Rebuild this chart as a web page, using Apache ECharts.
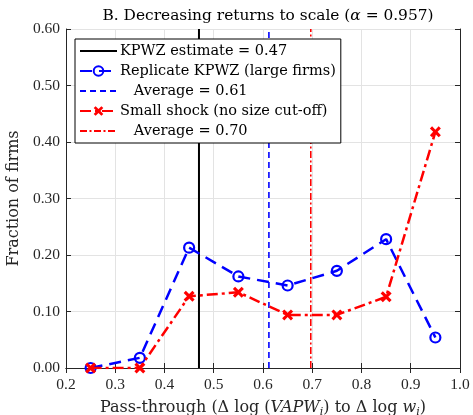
<!DOCTYPE html>
<html>
<head>
<meta charset="utf-8">
<script src="https://cdn.jsdelivr.net/npm/echarts@6/dist/echarts.min.js"></script>
<style>
  html, body { margin: 0; padding: 0; background: #fff; }
  #chart { width: 473px; height: 415px; }
</style>
</head>
<body>
<div id="chart"></div>
<script>
// Pass-through bins (bin centres) and fraction of firms in each bin
const binCentres = [0.25, 0.35, 0.45, 0.55, 0.65, 0.75, 0.85, 0.95];
const replicateLarge = [0.000, 0.018, 0.213, 0.162, 0.146, 0.172, 0.228, 0.054];
const smallShock = [0.000, 0.000, 0.127, 0.134, 0.094, 0.094, 0.126, 0.418];

// Reference values drawn as vertical lines
const kpwzEstimate = 0.47;
const replicateAverage = 0.612;
const smallShockAverage = 0.697;

const xTicks = [0.2, 0.3, 0.4, 0.5, 0.6, 0.7, 0.8, 0.9, 1.0];
const yTicks = [0.0, 0.1, 0.2, 0.3, 0.4, 0.5, 0.6];

const legendNames = [
  'KPWZ estimate = 0.47',
  'Replicate KPWZ (large firms)',
  '   Average = 0.61',
  'Small shock (no size cut-off)',
  '   Average = 0.70'
];

const TEXT_FONT = 'DejaVu Serif';
const NUM_FONT = 'Liberation Serif';
const INK = '#262626';
const xMin = xTicks[0], xMax = xTicks[xTicks.length - 1];
const yMin = yTicks[0], yMax = yTicks[yTicks.length - 1];

const pairs = (xs, ys) => xs.map((x, i) => [x, ys[i]]);
const vline = x => [[x, yMin], [x, yMax]];

const crossPath = 'path://M2,0L5,3L8,0L10,2L7,5L10,8L8,10L5,7L2,10L0,8L3,5L0,2Z';
const noMarker = { color: 'rgba(0,0,0,0)', borderWidth: 0, borderColor: 'rgba(0,0,0,0)' };

const baseX = {
  type: 'value', min: xMin, max: xMax, interval: 0.1,
  axisLine: { show: true, lineStyle: { color: INK, width: 1 } },
  axisTick: { show: true, inside: true, length: 5, lineStyle: { color: INK } },
  splitLine: { show: false }
};
const baseY = {
  type: 'value', min: yMin, max: yMax, interval: 0.1,
  axisLine: { show: true, lineStyle: { color: INK, width: 1 } },
  axisTick: { show: true, inside: true, length: 5, lineStyle: { color: INK } },
  splitLine: { show: false }
};

const chart = echarts.init(document.getElementById('chart'), null, { renderer: 'canvas' });
chart.setOption({
  backgroundColor: '#fff',
  animation: false,
  title: {
    text: 'B. Decreasing returns to scale ({a|α} = 0.957)',
    left: 263, top: 3, textAlign: 'center',
    textStyle: {
      fontFamily: TEXT_FONT, fontSize: 15.4, fontWeight: 'normal', color: '#000',
      rich: { a: { fontFamily: TEXT_FONT, fontStyle: 'italic', fontSize: 15.4, color: '#000' } }
    }
  },
  grid: {
    left: 66, right: 13, top: 29, bottom: 47,
    containLabel: false, outerBoundsMode: 'none'
  },
  legend: {
    orient: 'vertical', left: 75, top: 39,
    data: [
      { name: legendNames[0], itemStyle: noMarker },
      { name: legendNames[1] },
      { name: legendNames[2], itemStyle: noMarker },
      { name: legendNames[3] },
      { name: legendNames[4], itemStyle: noMarker }
    ],
    itemWidth: 37, itemHeight: 12, itemGap: 4,
    padding: [4, 5, 4, 4],
    backgroundColor: '#fff', borderColor: '#000', borderWidth: 1,
    textStyle: { fontFamily: TEXT_FONT, fontSize: 14.5, lineHeight: 16, color: '#000', padding: [0, 0, 0, -2] },
    selectedMode: false
  },
  xAxis: [
    Object.assign({}, baseX, {
      position: 'bottom',
      axisLabel: { fontFamily: NUM_FONT, fontSize: 15.5, color: INK, margin: 9, formatter: v => v.toFixed(1) },
      splitLine: { show: true, lineStyle: { color: '#e3e3e3', width: 1 } },
      name: 'Pass-through ({r|Δ} log ({i|VAPW}{s|i}) to {r|Δ} log {i|w}{s|i})',
      nameLocation: 'middle', nameGap: 27,
      nameTextStyle: {
        fontFamily: TEXT_FONT, fontSize: 16, color: INK, lineHeight: 20,
        rich: {
          r: { fontFamily: TEXT_FONT, fontSize: 16, color: INK, lineHeight: 20 },
          i: { fontFamily: TEXT_FONT, fontSize: 16, fontStyle: 'italic', color: INK, lineHeight: 20 },
          s: { fontFamily: TEXT_FONT, fontSize: 11, fontStyle: 'italic', color: INK, lineHeight: 8, verticalAlign: 'bottom' }
        }
      }
    }),
    Object.assign({}, baseX, { position: 'top', axisLabel: { show: false } })
  ],
  yAxis: [
    Object.assign({}, baseY, {
      position: 'left',
      axisLabel: { fontFamily: NUM_FONT, fontSize: 15.5, color: INK, margin: 6, formatter: v => v.toFixed(2) },
      splitLine: { show: true, lineStyle: { color: '#e3e3e3', width: 1 } },
      name: 'Fraction of firms', nameLocation: 'middle', nameGap: 42,
      nameTextStyle: { fontFamily: TEXT_FONT, fontSize: 16, color: INK }
    }),
    Object.assign({}, baseY, { position: 'right', axisLabel: { show: false } })
  ],
  series: [
    {
      name: legendNames[0], type: 'line', data: vline(kpwzEstimate),
      symbol: 'none', z: 3,
      lineStyle: { color: '#000', width: 2, type: 'solid' },
      itemStyle: { color: '#000' }
    },
    {
      name: legendNames[1], type: 'line', data: pairs(binCentres, replicateLarge),
      symbol: 'circle', symbolSize: 10, z: 4,
      lineStyle: { color: '#0000ff', width: 2.5, type: [12, 7] },
      itemStyle: { color: 'rgba(0,0,0,0)', borderColor: '#0000ff', borderWidth: 2.2 }
    },
    {
      name: legendNames[2], type: 'line', data: vline(replicateAverage),
      symbol: 'none', z: 3,
      lineStyle: { color: '#0000ff', width: 1.6, type: [6, 4] },
      itemStyle: { color: '#0000ff' }
    },
    {
      name: legendNames[3], type: 'line', data: pairs(binCentres, smallShock),
      symbol: crossPath, symbolSize: 11, z: 5,
      lineStyle: { color: '#ff0000', width: 2.5, type: [11, 4, 3, 4] },
      itemStyle: { color: '#ff0000', borderWidth: 0 }
    },
    {
      name: legendNames[4], type: 'line', data: vline(smallShockAverage),
      symbol: 'none', z: 3,
      lineStyle: { color: '#ff0000', width: 1.6, type: [7, 2.5, 2, 2.5] },
      itemStyle: { color: '#ff0000' }
    }
  ]
});
</script>
</body>
</html>
